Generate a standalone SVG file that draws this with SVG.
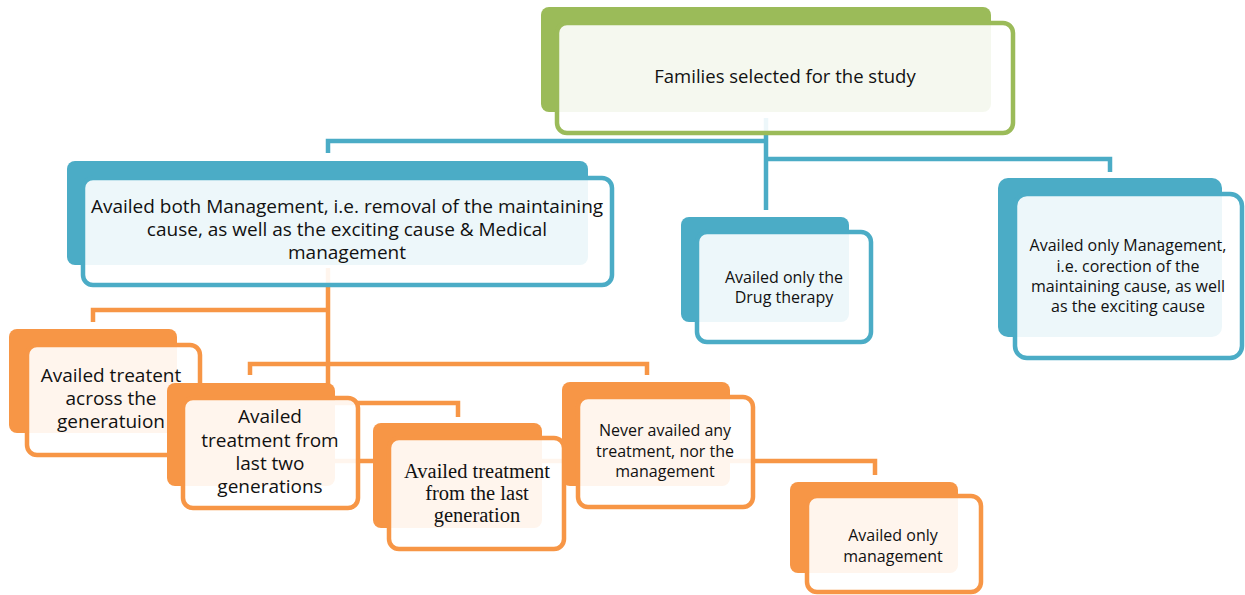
<svg xmlns="http://www.w3.org/2000/svg" width="1245" height="595" viewBox="0 0 1245 595">
<style>
.bk{stroke:none}
.fr{fill:#ffffff;fill-opacity:0.9;stroke-width:4.5}
.g .bk{fill:#9BBB59}.g .fr{stroke:#9BBB59}
.b .bk{fill:#4BACC6}.b .fr{stroke:#4BACC6}
.o .bk{fill:#F79646}.o .fr{stroke:#F79646}
text{font-family:"Open Sans","Liberation Sans",sans-serif;fill:#111;text-anchor:middle}
.t19{font-size:19px}.t16{font-size:16px}.t18{font-size:18.5px}
.serif{font-family:"Liberation Serif","Times New Roman",serif;font-size:20.5px}
.cb{fill:none;stroke:#4BACC6;stroke-width:4.5}
.co{fill:none;stroke:#F79646;stroke-width:4.5}
</style>
<g id="connectors">
<path class="cb" d="M766,118 V210"/>
<path class="cb" d="M766,141 H328 V153"/>
<path class="cb" d="M766,159 H1110 V172"/>
<path class="co" d="M328,268 V461"/>
<path class="co" d="M328,310 H93 V322"/>
<path class="co" d="M250,375 V364 H647 V375"/>
<path class="co" d="M328,403 H458 V417"/>
<path class="co" d="M328,461 H875 V475"/>
</g>
<g id="n-top" class="g">
<rect class="bk" x="541" y="7" width="450" height="105" rx="8"/>
<rect class="fr" x="557" y="23" width="456" height="110" rx="10"/>
<text class="t18" x="785" y="83">Families selected for the study</text>
</g>
<g id="n-both" class="b">
<rect class="bk" x="67" y="161" width="521" height="104" rx="8"/>
<rect class="fr" x="83" y="178" width="529" height="107" rx="10"/>
<text class="t19" x="347" y="213">Availed both Management, i.e. removal of the maintaining</text>
<text class="t19" x="347" y="236">cause, as well as the exciting cause &amp; Medical</text>
<text class="t19" x="347" y="259">management</text>
</g>
<g id="n-drug" class="b">
<rect class="bk" x="681" y="217" width="168" height="105" rx="8"/>
<rect class="fr" x="697" y="232" width="174" height="110" rx="10"/>
<text class="t16" x="784" y="283">Availed only the</text>
<text class="t16" x="784" y="303">Drug therapy</text>
</g>
<g id="n-mgmt" class="b">
<rect class="bk" x="998" y="178" width="224" height="159" rx="10"/>
<rect class="fr" x="1015" y="194" width="227" height="164" rx="12"/>
<text class="t16" x="1128" y="251">Availed only Management,</text>
<text class="t16" x="1128" y="272">i.e. corection of the</text>
<text class="t16" x="1128" y="292">maintaining cause, as well</text>
<text class="t16" x="1128" y="312">as the exciting cause</text>
</g>
<g id="n-across" class="o">
<rect class="bk" x="9" y="329" width="168" height="104" rx="8"/>
<rect class="fr" x="27" y="345" width="173" height="110" rx="10"/>
<text class="t19" x="111" y="382">Availed treatent</text>
<text class="t19" x="111" y="405">across the</text>
<text class="t19" x="111" y="428">generatuion</text>
</g>
<g id="n-two" class="o">
<rect class="bk" x="167" y="383" width="168" height="103" rx="8"/>
<rect class="fr" x="183" y="398" width="175" height="110" rx="10"/>
<text class="t19" x="270" y="423">Availed</text>
<text class="t19" x="270" y="447">treatment from</text>
<text class="t19" x="270" y="470">last two</text>
<text class="t19" x="270" y="493">generations</text>
</g>
<g id="n-last" class="o">
<rect class="bk" x="373" y="423" width="169" height="105" rx="8"/>
<rect class="fr" x="389" y="438" width="175" height="111" rx="10"/>
<text class="serif" x="477" y="478">Availed treatment</text>
<text class="serif" x="477" y="500">from the last</text>
<text class="serif" x="477" y="522">generation</text>
</g>
<g id="n-never" class="o">
<rect class="bk" x="562" y="382" width="168" height="104" rx="8"/>
<rect class="fr" x="578" y="397" width="175" height="110" rx="10"/>
<text class="t16" x="665" y="436">Never availed any</text>
<text class="t16" x="665" y="457">treatment, nor the</text>
<text class="t16" x="665" y="477">management</text>
</g>
<g id="n-onlymgmt" class="o">
<rect class="bk" x="790" y="482" width="168" height="91" rx="8"/>
<rect class="fr" x="807" y="496" width="174" height="96" rx="10"/>
<text class="t16" x="893" y="541">Availed only</text>
<text class="t16" x="893" y="562">management</text>
</g>
</svg>
